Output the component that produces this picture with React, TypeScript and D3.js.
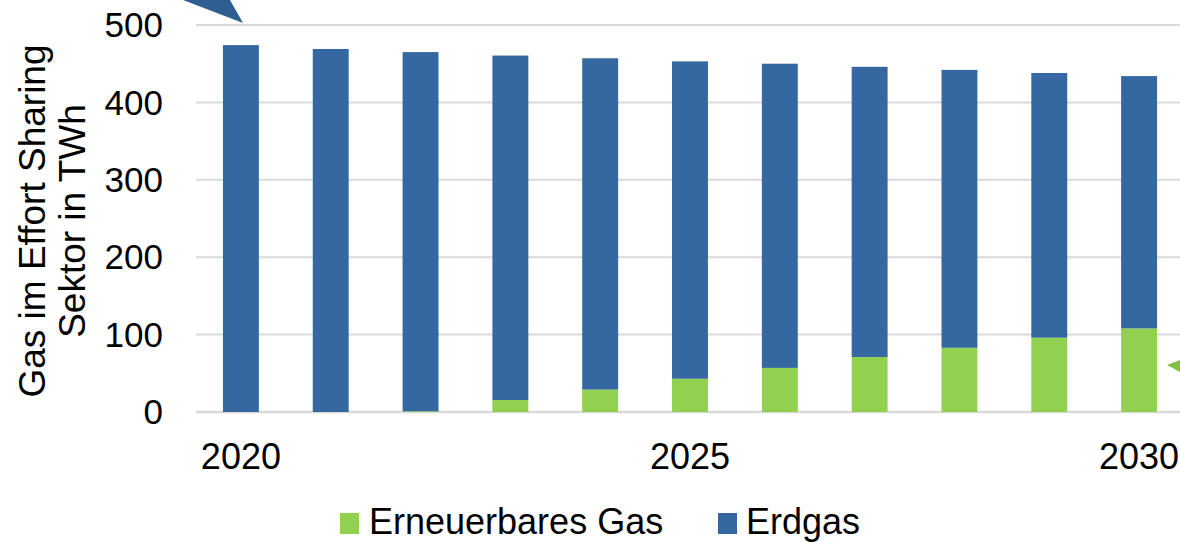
import React from 'react'
import * as d3 from 'd3'

const years = ['2020', '2021', '2022', '2023', '2024', '2025', '2026', '2027', '2028', '2029', '2030']
const erneuerbar = [0, 0, 1, 15.5, 29, 43, 57, 71, 83, 96, 108]
const erdgas = [474, 469, 464, 445, 428, 410, 393, 375, 359, 342, 326]
const yTicks = [0, 100, 200, 300, 400, 500]
const shownYears = ['2020', '2025', '2030']

const GREEN = '#92d050'
const BLUE = '#3568a0'
const FONT = '"Liberation Sans", Arial, sans-serif'

const App = () => {
  const width = 1180
  const height = 542
  const margin = { left: 196, right: -4, top: 25, bottom: 130 }
  const innerHeight = height - margin.top - margin.bottom

  const xScale = d3.scaleBand()
    .domain(years)
    .range([margin.left, width - margin.right])
    .paddingInner(0.6)
    .paddingOuter(0.3)

  const yScale = d3.scaleLinear()
    .domain([0, 500])
    .range([margin.top + innerHeight, margin.top])

  const stackData = years.map((y, i) => ({ year: y, erneuerbar: erneuerbar[i], erdgas: erdgas[i] }))
  const series = d3.stack().keys(['erneuerbar', 'erdgas'])(stackData as any)
  const colors = [GREEN, BLUE]

  return (
    <svg width={width} height={height} style={{ position: 'absolute', left: 0, top: 0 }} fontFamily={FONT}>
      {yTicks.map((t, i) => (
        <g key={i}>
          <line x1={margin.left} x2={width} y1={yScale(t)} y2={yScale(t)} stroke="#d9d9d9" strokeWidth={t === 0 ? 2.5 : 2} />
          <text x={163} y={yScale(t)} dy=".35em" textAnchor="end" fontSize={35}>{t}</text>
        </g>
      ))}
      {series.map((s, si) => (
        <g key={si} fill={colors[si]}>
          {s.map((d, i) => (
            <rect
              key={i}
              x={xScale(years[i])}
              y={yScale(d[1])}
              width={xScale.bandwidth()}
              height={Math.max(0, yScale(d[0]) - yScale(d[1]))}
            />
          ))}
        </g>
      ))}
      {shownYears.map((y, i) => (
        <text key={i} x={(xScale(y) as number) + xScale.bandwidth() / 2} y={469} textAnchor="middle" fontSize={36}>{y}</text>
      ))}
      <g transform="translate(45,221) rotate(-90)">
        <text x={0} y={0} textAnchor="middle" fontSize={37}>Gas im Effort Sharing</text>
        <text x={0} y={40} textAnchor="middle" fontSize={37}>Sektor in TWh</text>
      </g>
      <rect x={340} y={513} width={19} height={21} fill={GREEN} />
      <text x={369} y={534} fontSize={36}>Erneuerbares Gas</text>
      <rect x={718} y={513} width={19} height={21} fill={BLUE} />
      <text x={746} y={534} fontSize={36}>Erdgas</text>
      <path d="M183,0 L230,0 L243,23 Z" fill="#2f5f91" />
      <path d="M1167,365 L1180,360 L1180,372 Z" fill="#7fc045" />
    </svg>
  )
}

export default App
